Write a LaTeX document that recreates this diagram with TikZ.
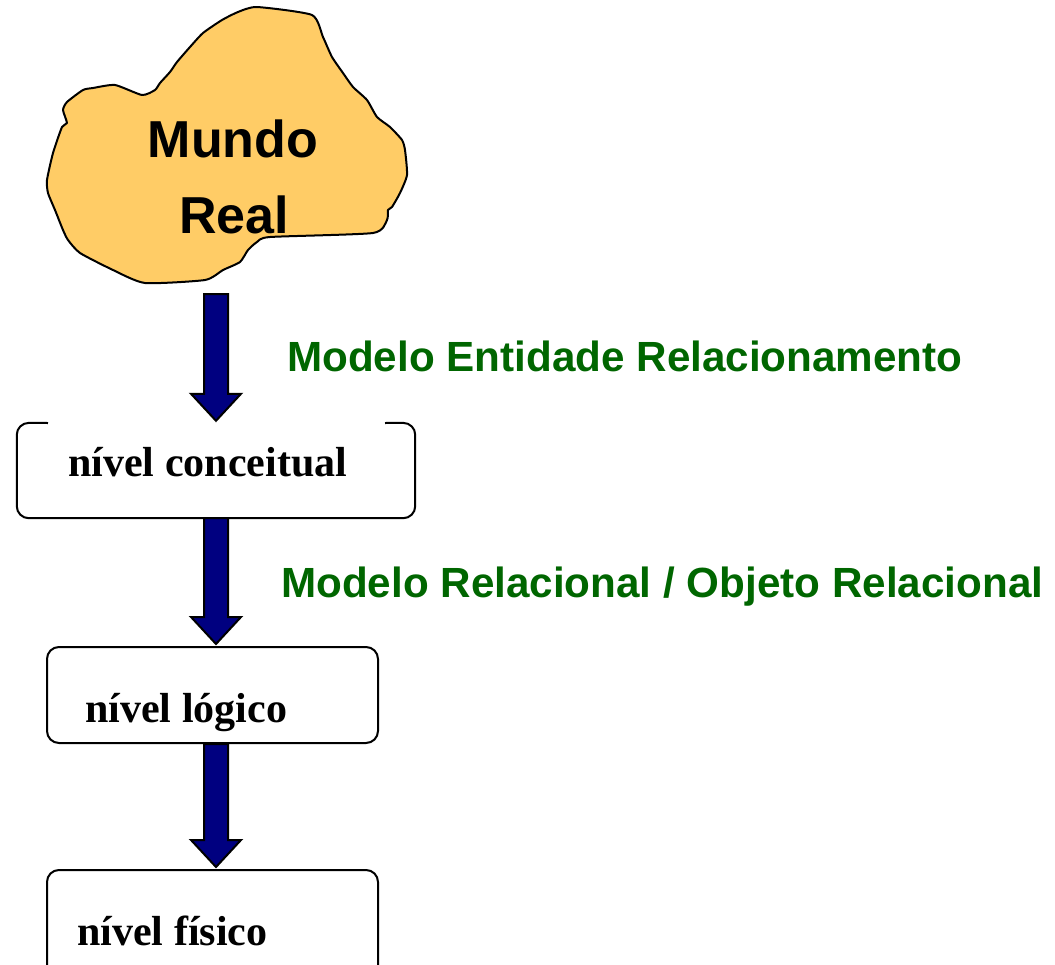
\documentclass[tikz,border=0pt]{standalone}
\usepackage{fontspec}
\usetikzlibrary{calc}
\setmainfont{Liberation Serif}
\setsansfont{Liberation Sans}
\definecolor{blobfill}{RGB}{255,204,102}
\definecolor{mgreen}{RGB}{0,102,0}
\definecolor{navyarrow}{RGB}{0,0,128}
\tikzset{
  boxline/.style={draw=black, line width=2pt, rounded corners=12pt},
  levellabel/.style={anchor=base west, inner sep=0pt, font=\fontsize{42}{50}\selectfont\rmfamily\bfseries},
  modellabel/.style={anchor=base west, inner sep=0pt, text=mgreen, font=\fontsize{42.2}{50}\selectfont\sffamily\bfseries},
  worldlabel/.style={anchor=base, inner sep=0pt, font=\fontsize{52}{60}\selectfont\sffamily\bfseries},
  blockarrow/.style={fill=navyarrow, draw=black, line width=2pt, line join=miter},
}
\newcommand{\blockarrowpath}[2]{%
  \path (axis |- #1) coordinate (bas) (axis |- #2) coordinate (bat);
  \draw[blockarrow] ($(bas)+(-12,0)$) -- ($(bat)+(-12,-29)$) -- ($(bat)+(-25,-29)$) -- ($(bat)+(0,-2)$)
    -- ($(bat)+(25,-29)$) -- ($(bat)+(12,-29)$) -- ($(bas)+(12,0)$) -- cycle;}
\begin{document}
\begin{tikzpicture}[x=1pt,y=-1pt]
\useasboundingbox (0,0) rectangle (1055,964);
\clip (0,0) rectangle (1055,964);
\coordinate (axis) at (216,0);
% blob
\draw[fill=blobfill, line width=2pt, line join=round]
  plot[smooth cycle, tension=0.35] coordinates {
  (257,7) (312,15) (323,37) (332,57) (343,73) (353,87) (367,100) (377,117)
  (390,127) (402,140) (405,150) (407,175) (400,193) (392,207) (388,210)
  (387,220) (373,233) (270,237) (257,242) (248,250) (240,262) (223,270)
  (205,280) (145,283) (113,270) (80,253) (68,240) (63,230) (55,210)
  (48,193) (47,180) (53,153) (62,127) (67,123) (63,110) (67,102) (83,90)
  (93,88) (115,85) (142,95) (155,90) (160,83) (170,72) (177,62) (190,47)
  (203,33) (222,20) (238,12)};
\node[worldlabel] (mundo) at (233,157) {Mundo};
\node[worldlabel] (real) at (234,233) {Real};
\coordinate (blobbottom) at (216,294);
% boxes
\node[minimum width=398pt, minimum height=95pt, inner sep=0pt] (conc) at (216,470.5) {};
\draw[boxline] (48,423) -- (conc.north west) -- (conc.south west) -- (conc.south east) -- (conc.north east) -- (385,423);
\node[boxline, minimum width=331pt, minimum height=96pt, inner sep=0pt] (logic) at (212.5,695) {};
\node[boxline, minimum width=331pt, minimum height=110pt, inner sep=0pt] (phys) at (212.5,925) {};
\node[levellabel] (lconc) at (68,476) {nível conceitual};
\node[levellabel] (llogic) at (85,722) {nível lógico};
\node[levellabel] (lphys) at (77,945) {nível físico};
% arrows
\blockarrowpath{blobbottom}{conc.north}
\blockarrowpath{conc.south}{logic.north}
\blockarrowpath{logic.south}{phys.north}
\node[modellabel] (mer) at (287,371) {Modelo Entidade Relacionamento};
\node[modellabel] (mrel) at (281,597) {Modelo Relacional / Objeto Relacional};
\end{tikzpicture}
\end{document}
